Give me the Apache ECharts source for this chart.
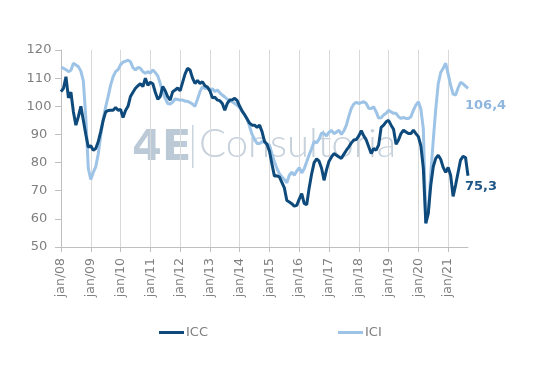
<!DOCTYPE html>
<html>
<head>
<meta charset="utf-8">
<script src="https://cdn.jsdelivr.net/npm/echarts@6/dist/echarts.min.js"></script>
<style>
html,body{margin:0;padding:0;background:#fff;}
#chart{width:541px;height:369px;}
</style>
</head>
<body>
<div id="chart"></div>
<script>
const monthNames = ['jan','fev','mar','abr','mai','jun','jul','ago','set','out','nov','dez'];
const years = ['08','09','10','11','12','13','14','15','16','17','18','19','20','21'];
const lastMonthCount = 9; // jan/21 .. set/21

const categories = [];
years.forEach((y, yi) => {
  const n = yi === years.length - 1 ? lastMonthCount : 12;
  for (let m = 0; m < n; m++) categories.push(monthNames[m] + '/' + y);
});

const icc = [
  105.2,106.4,110.5,103,105,98,93.3,96.3,100,95,90,85.5,
  86,84.4,85,87.4,91,95,98,98.5,98.6,98.6,99.6,98.6,
  98.9,96,98.5,100,103.5,105,106.4,107.3,108,107,110,107.5,
  108.5,108,105,102.5,103.5,107,105.5,103.4,102.2,105.2,105.8,106.5,
  105.5,108.5,111.5,113.5,112.9,110,108.1,109.2,108.1,108.7,107.3,106.8,
  105.5,103,103.2,102.2,102,101,98.6,101,102.2,102.3,102.8,102,
  100,98.3,97,95.5,94,93.3,93.3,92.5,93.3,91,87.5,86.5,
  84,79.5,75.2,75.3,74.9,73,71,66.5,66,65.4,64.5,64.8,
  67,69,65.5,65,71,76,80,81.3,80.5,78,73.7,77.5,
  80.5,82,83.2,82.6,82,81.5,83,84.4,85.6,87,88,88.2,
  89.5,91.3,89.5,88,85.6,83.2,85,84.4,86.3,92.5,93.3,94.5,
  95,93.3,91.8,86.5,88,90.3,91.5,90.9,90.3,90.3,91.5,90.3,
  89.2,86,78,58.5,62,72,78.5,81.5,82.6,81.2,78.3,76.5,
  78.3,75.5,68,72,76.5,80.9,82.2,81.8,75.3
];

const ici = [
  113.8,113.5,113,112.3,112.8,115.3,114.7,114.1,112.5,109,96,78,
  74,76.5,78.5,83,89.5,95.5,99.8,103.5,107.5,110.5,112.3,113,
  114.8,115.7,116,116.4,115.8,113.7,112.9,113.8,113.5,112.3,111.7,112.3,
  111.8,112.9,112,110.8,108,105,102.8,101,100.8,101.5,102.6,102.4,
  102.2,102.2,101.8,101.8,101.3,100.8,100,102.5,105.2,107,106.3,106.6,
  105.8,106.2,105.3,105.8,104.8,104,103.3,102.5,102,101.6,101,100.4,
  99.5,98.2,97,95.5,92.8,90,88.3,86.8,86.8,87.4,87.2,86.5,
  86.2,83.2,80.3,77.9,76.1,74.9,74,72.8,75.5,76.6,75.5,77,
  78.2,76.3,77.8,80.3,82.8,85,87.5,87,88.3,90.5,90.3,89.5,
  90.8,91.4,90.3,90.8,91.5,90,91.3,93.3,96.5,99.3,100.8,101.4,
  101,101.3,101.6,101,99.3,99.2,99.8,98,95.8,95.9,96.9,97.5,
  98.6,98,97.5,97.5,96.3,95.7,96,95.7,95.7,96.3,98.6,100.4,
  101.6,99,92,58.3,62,76,88,99,108,112,113.5,115.3,
  111.5,107.5,104.3,104,106.5,108.5,108,107.2,106.4
];

const seriesNames = ['ICC', 'ICI'];
const yTicks = {min: 50, max: 120, interval: 10};

const fmt = p => String(p.value).replace('.', ',');
const gray = '#7f7f7f';
const font = 'DejaVu Sans';

const chart = echarts.init(document.getElementById('chart'), null, {renderer: 'canvas'});
chart.setOption({
  backgroundColor: '#ffffff',
  animation: false,
  grid: {left: 61, right: 73, top: 50, bottom: 122, containLabel: false},
  legend: {
    data: seriesNames,
    left: 154, top: 321,
    icon: 'rect', itemWidth: 25, itemHeight: 3, itemGap: 130,
    textStyle: {color: gray, fontSize: 13, fontFamily: font, padding: [0,0,0,-3]}
  },
  graphic: [
    {type: 'text', left: 132, top: 127, z: 0, silent: true,
     style: {text: '4E', fontSize: 43, fontWeight: 900, fontFamily: font, fill: '#bccad8'}},
    {type: 'rect', shape: {x: 192, y: 125, width: 1.5, height: 43}, z: 0, silent: true,
     style: {fill: '#c9d4de'}},
    {type: 'text', left: 199, top: 124, z: 0, silent: true,
     style: {text: 'Consultoria', fontSize: 40, fontWeight: 300, fontFamily: 'Lato', fill: '#c6d1dc'}}
  ],
  xAxis: {
    type: 'category',
    data: categories,
    boundaryGap: false,
    axisLine: {show: true, lineStyle: {color: '#bfbfbf', width: 1}},
    axisTick: {show: true, interval: 11, length: 5, lineStyle: {color: '#bfbfbf'}},
    splitLine: {show: true, interval: 11, lineStyle: {color: '#d9d9d9', width: 1}},
    axisLabel: {interval: 11, rotate: 90, margin: 11, color: gray, fontSize: 12.5, fontFamily: font}
  },
  yAxis: {
    type: 'value',
    min: yTicks.min, max: yTicks.max, interval: yTicks.interval,
    axisLine: {show: true, lineStyle: {color: '#bfbfbf', width: 1}},
    axisTick: {show: true, length: 6, lineStyle: {color: '#bfbfbf'}},
    splitLine: {show: false},
    axisLabel: {color: gray, fontSize: 13, fontFamily: font, align: 'center', margin: 22}
  },
  series: [
    {
      name: seriesNames[0], type: 'line', data: icc, showSymbol: false, symbol: 'none', z: 3,
      lineStyle: {color: '#0e4a7b', width: 3}, itemStyle: {color: '#0e4a7b'},
      endLabel: {show: true, formatter: fmt, offset: [-11, 11], color: '#1f5686', fontWeight: 'bold', fontSize: 13, fontFamily: font}
    },
    {
      name: seriesNames[1], type: 'line', data: ici, showSymbol: false, symbol: 'none', z: 2,
      lineStyle: {color: '#9dc3e6', width: 3}, itemStyle: {color: '#9dc3e6'},
      endLabel: {show: true, formatter: fmt, offset: [-11, 17], color: '#8fb6de', fontWeight: 'bold', fontSize: 13, fontFamily: font}
    }
  ]
});
</script>
</body>
</html>
